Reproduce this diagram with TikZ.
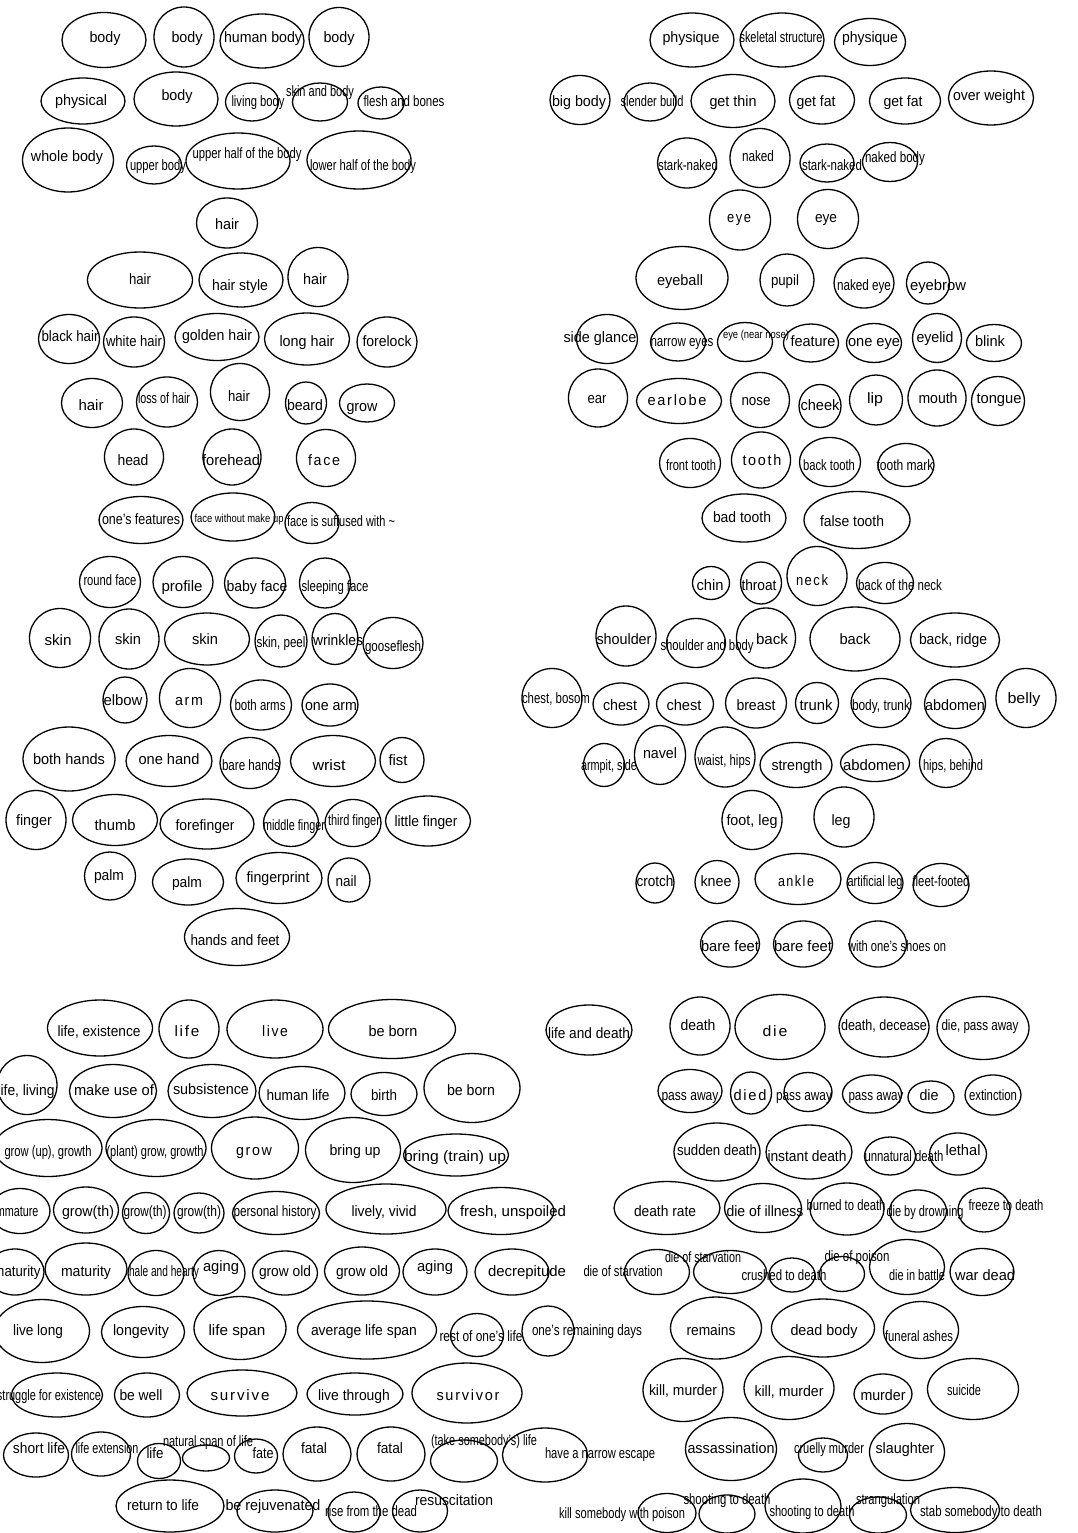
\documentclass[tikz,border=0pt]{standalone}
\usepackage{fontspec}
\setmainfont{Liberation Sans}
\usepackage{graphicx}
\usepackage{tikz}
\usetikzlibrary{shapes.geometric}

\newlength{\fitlen}
% squeeze or stretch a label sideways to a given width (in pt)
\newcommand{\fitw}[2]{\settowidth{\fitlen}{#2}\pgfmathsetmacro{\fitsx}{#1/\fitlen}\scalebox{\fitsx}[1]{#2}}
% ellipse plus its label: [label style]{name}{centre}{w}{h}{label pos}{label width}{text}
\newcommand{\bub}[8][]{%
  \node[blob, minimum width=#4pt, minimum height=#5pt] (#2) at (#3) {};
  \node[word, #1] (#2-t) at (#6) {\fitw{#7}{#8}};}

\begin{document}
\begin{tikzpicture}[x=1pt, y=-1pt,
  blob/.style={draw, ellipse, line width=1.3pt, inner sep=0pt},
  word/.style={inner sep=0pt, font=\fontsize{15}{15}\selectfont, text height=10.5pt, text depth=3pt},
  small/.style={font=\fontsize{11.5}{11.5}\selectfont, text height=8.5pt, text depth=2.5pt},
  spaced/.style={font=\fontsize{15}{15}\selectfont\addfontfeature{LetterSpace=12}}]
  \useasboundingbox (0,0) rectangle (1077,1533);

  % body, hair, face, hands
  \bub{body-a}{104,40}{84}{55}{105,39}{31}{body}
  \bub{body-b}{184,37}{60}{60}{187,39}{31}{body}
  \bub{humanbody}{262,41}{84}{54}{263,39}{78}{human body}
  \bub{body-c}{339,37}{60}{59}{339,39}{31}{body}
  \bub{physical}{83,101}{84}{46}{81,102}{52}{physical}
  \bub{body-d}{176,99}{84}{54}{177,97}{31}{body}
  \bub{livingbody}{252,102}{53}{38}{258,103}{53}{living body}
  \bub{skinbody}{320,102}{55}{38}{320,93}{68}{skin and body}
  \bub{flesh}{381,103}{46}{32}{404,103}{81}{flesh and bones}
  \bub{wholebody}{68,160}{91}{64}{67,158}{72}{whole body}
  \bub{upperbody}{154,165}{55}{38}{158,167}{56}{upper body}
  \bub{upperhalf}{238,161}{104}{56}{247,155}{109}{upper half of the body}
  \bub{lowerhalf}{359,160}{104}{58}{363,167}{106}{lower half of the body}
  \bub{hair-a}{227,223}{61}{50}{227,226}{24}{hair}
  \bub{hair-b}{140,280}{105}{56}{140,281}{22}{hair}
  \bub{hairstyle}{241,280}{84}{54}{240,287}{56}{hair style}
  \bub{hair-c}{318,277}{60}{59}{315,281}{24}{hair}
  \bub{blackhair}{69,339}{61}{49}{70,338}{57}{black hair}
  \bub{whitehair}{134,342}{61}{50}{134,343}{56}{white hair}
  \bub{goldenhair}{217,337}{84}{47}{217,337}{70}{golden hair}
  \bub{longhair}{307,339}{85}{52}{307,343}{55}{long hair}
  \bub{forelock}{387,342}{60}{50}{387,343}{49}{forelock}
  \bub{hair-d}{92,403}{61}{49}{91,407}{25}{hair}
  \bub{losshair}{167,402}{61}{50}{164,400}{52}{loss of hair}
  \bub{hair-e}{240,392}{59}{57}{239,398}{22}{hair}
  \bub{beard}{306,403}{41}{42}{305,407}{36}{beard}
  \bub{grow-a}{367,403}{55}{38}{362,408}{31}{grow}
  \bub{head}{134,457}{59}{56}{133,462}{31}{head}
  \bub{forehead}{232,457}{58}{56}{231,462}{58}{forehead}
  \bub[spaced]{face}{326,458}{59}{57}{324,462}{32}{face}
  \bub{features}{141,520}{84}{47}{141,521}{78}{one’s features}
  \bub[small]{nomakeup}{233,517}{84}{48}{239,519}{89}{face without make up}
  \bub{suffused}{312,523}{54}{41}{341,523}{108}{face is suffused with \textasciitilde}
  \bub{roundface}{110,582}{61}{51}{110,582}{53}{round face}
  \bub{profile}{183,582}{60}{51}{182,588}{41}{profile}
  \bub{babyface}{255,583}{61}{50}{257,588}{61}{baby face}
  \bub{sleepface}{325,583}{51}{50}{335,588}{67}{sleeping face}
  \bub{skin-a}{60,638}{61}{59}{58,642}{27}{skin}
  \bub{skin-b}{129,639}{60}{60}{128,641}{26}{skin}
  \bub{skin-c}{207,639}{85}{52}{205,641}{26}{skin}
  \bub{skinpeel}{281,641}{52}{52}{281,644}{49}{skin, peel}
  \bub{wrinkles}{335,639}{46}{51}{338,642}{50}{wrinkles}
  \bub{gooseflesh}{393,643}{60}{51}{393,648}{56}{gooseflesh}
  \bub{elbow}{125,700}{44}{46}{123,702}{39}{elbow}
  \bub[spaced]{arm}{190,698}{61}{59}{189,702}{28}{arm}
  \bub{botharms}{261,705}{61}{50}{260,707}{51}{both arms}
  \bub{onearm}{330,705}{56}{42}{331,707}{52}{one arm}
  \bub{bothhands}{69,759}{92}{64}{69,761}{72}{both hands}
  \bub{onehand}{169,761}{86}{51}{169,761}{61}{one hand}
  \bub{barehands}{250,763}{60}{51}{251,767}{58}{bare hands}
  \bub{wrist}{333,761}{85}{51}{329,767}{33}{wrist}
  \bub{fist}{402,760}{44}{45}{398,762}{19}{fist}
  \bub{finger}{36,820}{60}{59}{34,822}{36}{finger}
  \bub{thumb}{115,820}{85}{51}{115,827}{41}{thumb}
  \bub{forefinger}{207,824}{94}{50}{205,827}{59}{forefinger}
  \bub{middlefinger}{291,823}{55}{47}{294,827}{62}{middle finger}
  \bub{thirdfinger}{353,823}{56}{47}{354,822}{52}{third finger}
  \bub{littlefinger}{428,821}{85}{50}{426,823}{63}{little finger}
  \bub{palm-a}{110,876}{51}{48}{109,877}{30}{palm}
  \bub{palm-b}{188,882}{71}{46}{187,884}{30}{palm}
  \bub{fingerprint}{279,878}{86}{51}{278,879}{63}{fingerprint}
  \bub{nail}{349,880}{42}{44}{346,883}{21}{nail}
  \bub{handsfeet}{237,937}{105}{57}{235,942}{89}{hands and feet}

  % physique, face parts, trunk, legs
  \bub{physique-a}{692,40}{84}{54}{691,39}{57}{physique}
  \bub{skeletal}{782,40}{84}{54}{781,39}{83}{skeletal structure}
  \bub{physique-b}{870,42}{71}{47}{870,39}{56}{physique}
  \bub{bigbody}{580,100}{60}{49}{579,103}{54}{big body}
  \bub{slender}{650,102}{52}{38}{652,103}{63}{slender build}
  \bub{getthin}{733,101}{84}{53}{733,103}{47}{get thin}
  \bub{getfat-a}{822,100}{65}{48}{816,103}{39}{get fat}
  \bub{getfat-b}{905,101}{71}{46}{903,103}{39}{get fat}
  \bub{overweight}{991,98}{85}{54}{989,97}{72}{over weight}
  \bub{stark-a}{687,163}{59}{50}{688,167}{60}{stark-naked}
  \bub{naked}{760,158}{60}{59}{758,158}{32}{naked}
  \bub{stark-b}{827,163}{54}{38}{832,167}{60}{stark-naked}
  \bub{nakedbody}{890,162}{55}{39}{895,159}{60}{naked body}
  \bub[spaced]{eye-a}{740,220}{61}{60}{739,219}{24}{eye}
  \bub{eye-b}{828,219}{61}{59}{826,219}{22}{eye}
  \bub{eyeball}{682,278}{92}{63}{680,282}{46}{eyeball}
  \bub{pupil}{787,280}{54}{52}{785,282}{28}{pupil}
  \bub{nakedeye}{864,283}{60}{50}{864,287}{54}{naked eye}
  \bub{eyebrow}{928,283}{43}{42}{938,287}{56}{eyebrow}
  \bub{sideglance}{607,339}{61}{49}{600,339}{73}{side glance}
  \bub{narrow}{678,342}{55}{38}{682,343}{63}{narrow eyes}
  \bub[small]{nearnose}{745,342}{55}{39}{756,335}{66}{eye (near nose)}
  \bub{feature}{811,343}{55}{38}{813,343}{45}{feature}
  \bub{oneeye}{874,343}{55}{39}{874,343}{52}{one eye}
  \bub{eyelid}{937,338}{49}{49}{935,339}{37}{eyelid}
  \bub{blink}{994,343}{55}{37}{990,343}{30}{blink}
  \bub{ear}{598,398}{59}{58}{597,400}{19}{ear}
  \bub[spaced]{earlobe}{679,401}{85}{45}{677,402}{59}{earlobe}
  \bub{nose}{760,400}{59}{55}{756,402}{29}{nose}
  \bub{cheek}{820,406}{42}{43}{820,407}{39}{cheek}
  \bub{lip}{876,400}{53}{50}{875,400}{16}{lip}
  \bub{mouth}{937,398}{58}{56}{938,400}{39}{mouth}
  \bub{tongue}{998,401}{53}{49}{999,400}{45}{tongue}
  \bub{fronttooth}{690,463}{61}{49}{691,467}{50}{front tooth}
  \bub[spaced]{tooth}{761,460}{59}{56}{762,462}{39}{tooth}
  \bub{backtooth}{830,462}{61}{49}{829,467}{52}{back tooth}
  \bub{toothmark}{906,465}{56}{43}{905,467}{57}{tooth mark}
  \bub{badtooth}{744,518}{84}{48}{742,519}{58}{bad tooth}
  \bub{falsetooth}{857,520}{106}{57}{852,523}{64}{false tooth}
  \bub{chin}{711,583}{37}{33}{710,587}{27}{chin}
  \bub{throat}{761,583}{41}{42}{759,587}{35}{throat}
  \bub[spaced]{neck}{817,576}{60}{59}{812,582}{32}{neck}
  \bub{backneck}{885,583}{57}{41}{900,587}{84}{back of the neck}
  \bub{shoulder}{626,636}{60}{60}{624,641}{55}{shoulder}
  \bub{shoulderbody}{696,643}{59}{49}{707,647}{93}{shoulder and body}
  \bub{back-a}{766,638}{59}{60}{772,641}{32}{back}
  \bub{back-b}{855,639}{90}{64}{855,641}{31}{back}
  \bub{backridge}{955,640}{89}{54}{953,641}{68}{back, ridge}
  \bub{chestbosom}{552,698}{60}{59}{556,700}{68}{chest, bosom}
  \bub{chest-a}{621,704}{56}{42}{620,707}{34}{chest}
  \bub{chest-b}{685,704}{57}{42}{684,707}{35}{chest}
  \bub{breast}{756,703}{61}{50}{756,707}{39}{breast}
  \bub{trunk}{817,703}{43}{41}{816,707}{33}{trunk}
  \bub{bodytrunk}{881,703}{60}{49}{881,707}{58}{body, trunk}
  \bub{abdomen-a}{955,704}{61}{49}{955,707}{60}{abdomen}
  \bub{belly}{1026,698}{60}{59}{1024,700}{33}{belly}
  \bub{armpit}{604,765}{41}{43}{609,767}{56}{armpit, side}
  \bub{navel}{660,755}{51}{59}{660,755}{34}{navel}
  \bub{waist}{725,757}{60}{60}{724,762}{53}{waist, hips}
  \bub{strength}{796,765}{72}{45}{797,767}{51}{strength}
  \bub{abdomen-b}{875,763}{69}{37}{874,767}{62}{abdomen}
  \bub{hips}{946,763}{53}{49}{953,767}{60}{hips, behind}
  \bub{footleg}{752,820}{60}{59}{752,822}{51}{foot, leg}
  \bub{leg}{844,817}{60}{60}{841,822}{19}{leg}
  \bub{crotch}{655,883}{38}{40}{655,883}{37}{crotch}
  \bub{knee}{717,882}{44}{43}{716,883}{31}{knee}
  \bub[spaced]{ankle}{798,879}{86}{51}{796,883}{36}{ankle}
  \bub{artleg}{875,883}{56}{41}{875,883}{55}{artificial leg}
  \bub{fleet}{941,885}{56}{43}{941,883}{57}{fleet-footed}
  \bub{barefeet-a}{730,944}{59}{46}{730,948}{58}{bare feet}
  \bub{barefeet-b}{803,944}{59}{46}{803,948}{58}{bare feet}
  \bub{shoeson}{878,944}{57}{46}{897,948}{98}{with one’s shoes on}

  % life
  \bub{lifeexist}{100,1028}{105}{56}{99,1033}{83}{life, existence}
  \bub[spaced]{life-a}{189,1029}{60}{58}{187,1033}{25}{life}
  \bub[spaced]{live}{275,1029}{96}{58}{275,1033}{26}{live}
  \bub{beborn-a}{392,1029}{127}{59}{393,1033}{49}{be born}
  \bub{lifeliving}{27,1085}{60}{59}{26,1092}{57}{life, living}
  \bub{makeuse}{113,1091}{87}{53}{114,1092}{80}{make use of}
  \bub{subsist}{212,1091}{88}{53}{211,1091}{76}{subsistence}
  \bub{humanlife}{302,1093}{86}{53}{298,1097}{63}{human life}
  \bub{birth}{384,1094}{66}{43}{384,1097}{26}{birth}
  \bub{beborn-b}{472,1088}{96}{69}{471,1092}{48}{be born}
  \bub{growup}{48,1148}{108}{57}{48,1153}{87}{grow (up), growth}
  \bub{plantgrow}{156,1148}{100}{57}{155,1153}{97}{(plant) grow, growth}
  \bub[spaced]{grow-b}{255,1148}{87}{62}{254,1152}{36}{grow}
  \bub{bringup}{353,1150}{95}{65}{355,1152}{51}{bring up}
  \bub{bringtrain}{456,1155}{105}{42}{455,1158}{102}{bring (train) up}
  \bub{immature}{20,1211}{60}{45}{16,1213}{45}{immature}
  \bub{growth-a}{86,1210}{65}{46}{88,1213}{52}{grow(th)}
  \bub{growth-b}{146,1213}{47}{41}{145,1213}{43}{grow(th)}
  \bub{growth-c}{199,1213}{50}{40}{199,1213}{44}{grow(th)}
  \bub{history}{276,1213}{87}{43}{275,1213}{83}{personal history}
  \bub{lively}{386,1209}{120}{50}{384,1213}{65}{lively, vivid}
  \bub{fresh}{501,1211}{106}{47}{513,1213}{106}{fresh, unspoiled}
  \bub{maturity-a}{15,1272}{58}{46}{17,1273}{47}{maturity}
  \bub{maturity-b}{86,1269}{82}{52}{86,1273}{50}{maturity}
  \bub{hale}{156,1273}{56}{45}{164,1273}{70}{hale and hearty}
  \bub{aging-a}{219,1273}{52}{45}{221,1268}{36}{aging}
  \bub{growold-a}{285,1273}{65}{44}{285,1273}{52}{grow old}
  \bub{growold-b}{362,1271}{75}{48}{362,1273}{52}{grow old}
  \bub{aging-b}{435,1272}{64}{46}{435,1268}{36}{aging}
  \bub{decrepit}{512,1272}{74}{46}{527,1273}{78}{decrepitude}
  \bub{livelong}{42,1331}{95}{63}{38,1332}{50}{live long}
  \bub{longevity}{143,1332}{83}{51}{141,1332}{56}{longevity}
  \bub{lifespan}{240,1328}{92}{63}{237,1332}{57}{life span}
  \bub{avglife}{367,1330}{139}{58}{364,1332}{106}{average life span}
  \bub{restlife}{477,1335}{53}{43}{481,1338}{83}{rest of one’s life}
  \bub{remaining}{548,1331}{52}{50}{587,1332}{110}{one’s remaining days}
  \bub{struggle}{57,1395}{91}{44}{49,1397}{104}{struggle for existence}
  \bub{bewell}{147,1395}{65}{44}{141,1397}{43}{be well}
  \bub[spaced]{survive}{242,1393}{110}{46}{240,1397}{59}{survive}
  \bub{livethrough}{355,1394}{96}{42}{354,1397}{72}{live through}
  \bub[spaced]{survivor}{467,1393}{110}{60}{468,1397}{63}{survivor}
  \bub{shortlife}{36,1455}{65}{44}{39,1450}{52}{short life}
  \bub{extension}{101,1454}{59}{44}{107,1450}{63}{life extension}
  \bub{life-b}{159,1461}{43}{35}{155,1455}{17}{life}
  \bub{natspan}{206,1458}{47}{26}{208,1443}{90}{natural span of life}
  \bub{fate}{256,1456}{43}{34}{263,1455}{21}{fate}
  \bub{fatal-a}{317,1454}{68}{54}{314,1450}{26}{fatal}
  \bub{fatal-b}{391,1454}{68}{54}{390,1450}{26}{fatal}
  \bub{takelife}{464,1461}{67}{42}{484,1442}{106}{(take somebody’s) life}
  \bub{narrowesc}{545,1455}{85}{54}{600,1455}{110}{have a narrow escape}
  \bub{returnlife}{170,1506}{108}{52}{163,1507}{72}{return to life}
  \bub{rejuv}{275,1511}{76}{42}{273,1507}{95}{be rejuvenated}
  \bub{risedead}{354,1512}{52}{40}{371,1513}{92}{rise from the dead}
  \bub{resus}{420,1511}{55}{42}{454,1502}{78}{resuscitation}

  % death
  \bub{lifedeath}{589,1030}{86}{50}{589,1035}{82}{life and death}
  \bub{death-a}{700,1026}{60}{58}{698,1027}{35}{death}
  \bub[spaced]{die-a}{780,1027}{90}{65}{775,1033}{25}{die}
  \bub{decease}{884,1027}{90}{60}{884,1027}{86}{death, decease}
  \bub{passaway-a}{983,1028}{92}{63}{980,1027}{77}{die, pass away}
  \bub{passaway-b}{690,1091}{64}{43}{690,1097}{57}{pass away}
  \bub[spaced]{died}{751,1093}{41}{42}{750,1097}{33}{died}
  \bub{passaway-c}{808,1092}{48}{39}{804,1097}{56}{pass away}
  \bub{passaway-d}{872,1094}{59}{38}{876,1097}{55}{pass away}
  \bub{die-b}{931,1097}{46}{32}{929,1097}{19}{die}
  \bub{extinct}{993,1095}{56}{40}{993,1097}{48}{extinction}
  \bub{sudden}{717,1152}{86}{58}{717,1152}{80}{sudden death}
  \bub{instant}{809,1152}{86}{54}{807,1158}{79}{instant death}
  \bub{unnatural}{890,1156}{51}{38}{904,1158}{79}{unnatural death}
  \bub{lethal}{958,1154}{57}{42}{963,1152}{35}{lethal}
  \bub{deathrate}{667,1208}{106}{53}{665,1213}{62}{death rate}
  \bub{illness}{763,1208}{77}{49}{765,1213}{77}{die of illness}
  \bub{burned}{847,1209}{74}{52}{846,1207}{79}{burned to death}
  \bub{drowning}{918,1211}{57}{42}{925,1213}{77}{die by drowning}
  \bub{freeze}{984,1210}{52}{44}{1006,1207}{75}{freeze to death}
  \bub{starve-a}{657,1272}{65}{45}{623,1273}{79}{die of starvation}
  \bub{starve-b}{730,1272}{73}{43}{703,1259}{76}{die of starvation}
  \bub{crushed}{792,1275}{46}{34}{784,1277}{85}{crushed to death}
  \bub{poison}{842,1274}{45}{35}{857,1258}{65}{die of poison}
  \bub{battle}{907,1267}{75}{55}{917,1277}{56}{die in battle}
  \bub{wardead}{982,1272}{64}{47}{985,1277}{60}{war dead}
  \bub{remains}{716,1328}{91}{62}{711,1332}{49}{remains}
  \bub{deadbody}{823,1328}{103}{58}{824,1332}{67}{dead body}
  \bub{ashes}{921,1330}{75}{57}{919,1338}{68}{funeral ashes}
  \bub{kill-a}{683,1390}{80}{63}{683,1392}{68}{kill, murder}
  \bub{kill-b}{789,1388}{90}{63}{789,1393}{69}{kill, murder}
  \bub{murder}{883,1394}{58}{40}{883,1397}{45}{murder}
  \bub{suicide}{973,1389}{91}{61}{964,1392}{34}{suicide}
  \bub{assassin}{731,1449}{91}{63}{731,1450}{87}{assassination}
  \bub{cruelly}{823,1455}{49}{34}{829,1450}{70}{cruelly murder}
  \bub{slaughter}{907,1452}{75}{57}{905,1450}{59}{slaughter}
  \bub{killpoison}{667,1513}{58}{39}{622,1515}{126}{kill somebody with poison}
  \bub{shoot-a}{727,1514}{56}{38}{727,1501}{87}{shooting to death}
  \bub{shoot-b}{803,1506}{76}{54}{812,1513}{85}{shooting to death}
  \bub{strangle}{878,1515}{57}{36}{888,1501}{64}{strangulation}
  \bub{stab}{955,1510}{89}{45}{981,1513}{122}{stab somebody to death}
\end{tikzpicture}
\end{document}
